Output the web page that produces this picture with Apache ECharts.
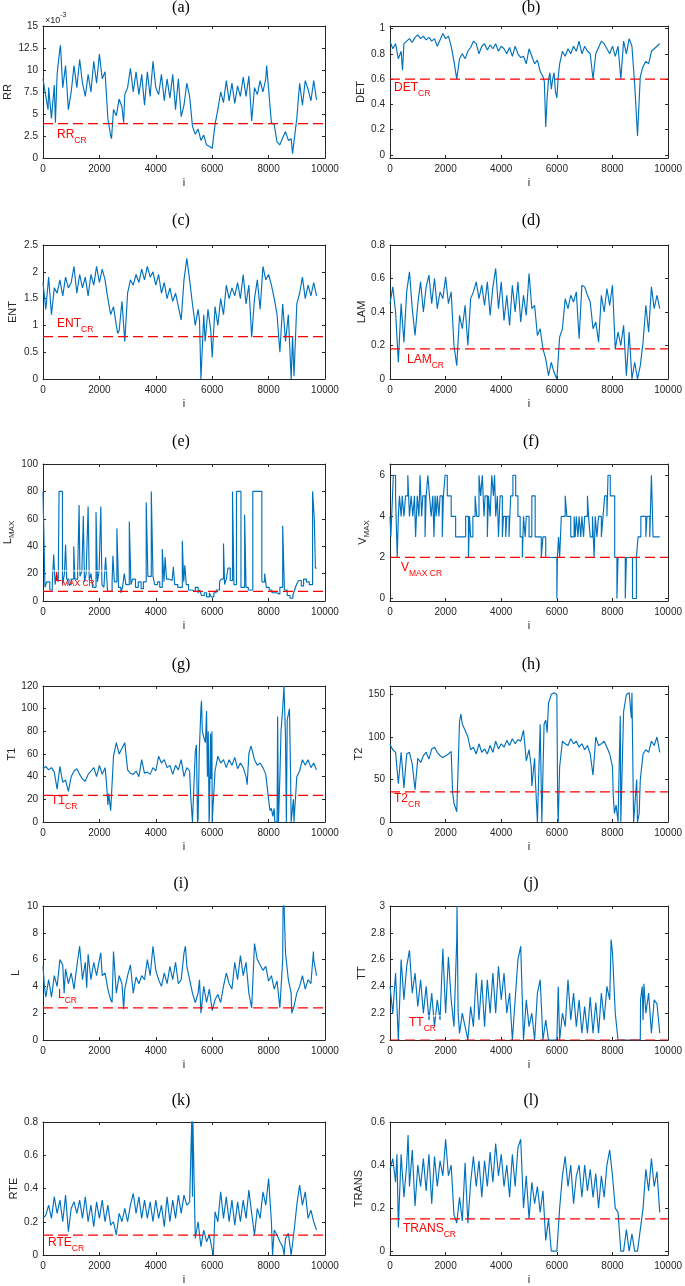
<!DOCTYPE html>
<html><head><meta charset="utf-8">
<script src="https://cdn.jsdelivr.net/npm/echarts@6/dist/echarts.min.js"></script>
<style>html,body{margin:0;padding:0;background:#fff}#c{width:685px;height:1286px}</style>
</head><body><div id="c"></div>
<script>
// ---------------- DATA ----------------
const sampleI = [0,100,200,300,400,500,600,700,800,900,
1000,1100,1200,1300,1400,1500,1600,1700,1800,1900,
2000,2100,2200,2300,2400,2500,2600,2700,2800,2900,
3000,3100,3200,3300,3400,3500,3600,3700,3800,3900,
4000,4100,4200,4300,4400,4500,4600,4700,4800,4900,
5000,5100,5200,5300,5400,5500,5600,5700,5800,5900,
6000,6100,6200,6300,6400,6500,6600,6700,6800,6900,
7000,7100,7200,7300,7400,7500,7600,7700,7800,7900,
8000,8100,8200,8300,8400,8500,8600,8700,8800,8900,
9000,9100,9200,9300,9400,9500,9600,9700];

// RR (x 10^-3)
const rrValues = [9.0,7.0,8.0,4.5,8.3,9.5,12.5,8.0,10.5,5.5,
7.5,10.5,8.0,11.2,8.5,7.0,9.5,7.5,11.0,8.5,
11.8,9.0,9.8,4.5,2.5,5.5,4.8,6.7,5.8,7.2,
8.0,10.2,7.5,9.8,7.2,9.5,6.0,9.8,7.0,11.0,
8.0,7.2,9.5,6.5,9.0,6.8,9.5,5.5,9.0,4.7,
6.0,8.5,7.0,3.6,2.7,3.3,2.0,2.6,1.5,1.3,
1.1,3.8,5.5,7.5,6.3,8.8,6.5,8.5,6.2,8.2,
7.0,9.2,7.0,9.3,4.2,8.0,7.2,8.8,7.5,9.0,
10.3,4.0,3.8,1.8,1.5,2.3,3.0,2.0,2.2,0.6,
4.5,8.5,6.0,8.8,7.8,6.5,8.8,6.6];
const rrExtra = [[180,5.5],[440,4.0],[620,12.8],[2430,2.2],[2860,4.0],[6050,0.9],[7420,4.0],[7930,10.5],[8850,0.5]];

const detValues = [0.90,0.84,0.88,0.76,0.82,0.88,0.90,0.92,0.89,0.93,
0.95,0.92,0.94,0.91,0.93,0.90,0.92,0.86,0.91,0.96,
0.92,0.94,0.86,0.74,0.60,0.76,0.80,0.76,0.82,0.85,
0.90,0.88,0.80,0.86,0.88,0.83,0.87,0.84,0.88,0.82,
0.86,0.84,0.80,0.85,0.78,0.86,0.80,0.77,0.78,0.72,
0.84,0.78,0.72,0.75,0.66,0.62,0.22,0.60,0.52,0.65,
0.45,0.72,0.82,0.78,0.84,0.80,0.86,0.82,0.90,0.80,
0.86,0.82,0.80,0.60,0.80,0.85,0.90,0.88,0.84,0.80,
0.86,0.78,0.86,0.60,0.90,0.80,0.92,0.86,0.55,0.15,
0.62,0.70,0.74,0.72,0.82,0.84,0.86,0.88];
const detExtra = [[450,0.67],[5550,0.58],[5650,0.45],[5750,0.65],[5850,0.60],[5950,0.50],[6050,0.62]];

const entValues = [1.80,1.30,1.90,1.20,1.70,1.60,1.85,1.55,1.90,1.70,
1.80,2.10,1.60,1.95,1.70,1.90,1.55,1.95,1.75,2.10,
1.80,2.05,1.85,1.50,1.20,1.35,1.00,0.90,1.45,0.70,
1.60,1.85,1.75,1.95,1.80,2.05,1.85,2.10,1.90,2.00,
1.75,1.95,1.60,1.80,1.50,1.70,1.45,1.60,1.35,1.10,
1.85,2.25,1.85,1.40,1.00,1.30,0.00,1.20,0.70,1.30,
0.40,1.35,1.00,1.50,1.20,1.75,1.50,1.70,1.55,1.80,
1.50,1.95,1.40,1.75,0.78,1.50,1.85,1.30,2.10,1.85,
1.95,1.75,1.50,1.20,0.50,1.40,0.70,1.20,0.00,0.05,
1.40,1.60,1.90,1.50,1.75,1.55,1.80,1.55];
const entExtra = [[2650,0.85],[5550,1.1],[5750,0.7],[5850,1.3],[5950,0.9],[8850,0.8]];

const lamValues = [0.45,0.55,0.40,0.10,0.45,0.22,0.52,0.64,0.42,0.26,
0.45,0.58,0.40,0.55,0.62,0.45,0.60,0.42,0.52,0.48,
0.61,0.45,0.52,0.20,0.08,0.38,0.30,0.44,0.20,0.48,
0.52,0.58,0.48,0.56,0.44,0.58,0.38,0.55,0.66,0.42,
0.58,0.35,0.50,0.32,0.56,0.40,0.58,0.34,0.50,0.38,
0.63,0.42,0.44,0.26,0.30,0.18,0.12,0.02,0.10,0.04,
0.00,0.25,0.30,0.48,0.42,0.50,0.46,0.52,0.24,0.56,
0.55,0.50,0.46,0.30,0.34,0.22,0.50,0.40,0.54,0.44,
0.56,0.18,0.28,0.20,0.32,0.02,0.28,0.00,0.10,0.00,
0.08,0.22,0.44,0.28,0.55,0.42,0.50,0.42];
const lamExtra = [];

// L_MAX: change points (i, value), held until next point
const lmaxSteps = [[0,80],[40,40],[70,10],[130,14],[240,8],[330,14],[380,34],[430,12],[480,20],[540,14],[570,80],[690,12],[760,20],[800,41],[840,16],[920,12],[1000,16],[1090,40],[1130,16],[1230,22],[1280,70],[1310,18],[1380,22],[1430,62],[1470,14],[1530,20],[1600,69],[1640,15],[1700,20],[1760,10],[1880,65],[1930,14],[1990,22],[2050,69],[2090,12],[2160,10],[2220,32],[2290,7],[2450,14],[2480,33],[2530,14],[2620,53],[2680,10],[2760,6],[2820,10],[2880,20],[2940,12],[3060,58],[3120,12],[3180,16],[3280,10],[3380,14],[3480,9],[3560,14],[3660,72],[3720,18],[3840,80],[3900,18],[3960,12],[4060,14],[4140,10],[4230,38],[4290,14],[4330,32],[4380,16],[4460,15],[4580,16],[4620,25],[4670,12],[4780,10],[4940,44],[4990,14],[5030,26],[5080,12],[5160,8],[5280,7],[5400,10],[5500,6],[5560,8],[5620,4],[5720,6],[5800,3],[5900,6],[5960,3],[6060,6],[6140,8],[6260,14],[6320,16],[6400,42],[6440,12],[6500,16],[6560,24],[6640,15],[6720,80],[6770,12],[6860,80],[7020,10],[7150,63],[7200,10],[7280,8],[7440,80],[7760,14],[7860,20],[7920,10],[8020,8],[8120,6],[8280,5],[8400,10],[8500,55],[8560,8],[8660,4],[8760,2],[8860,4],[8920,8],[8990,12],[9060,15],[9160,11],[9240,16],[9340,14],[9440,12],[9560,80],[9620,60],[9660,24],[9700,24]];
const lmaxMask = [[180,22],[2300,22]];

// V_MAX: change points
const vmaxSteps = [[0,4],[30,3],[60,4],[120,6],[200,5],[260,2],[300,4],[340,5],[400,4],[440,5],[500,4],[560,5],[640,6],[700,4],[760,5],[820,4],[880,5],[920,3],[980,5],[1040,4],[1080,6],[1140,4],[1180,5],[1260,3],[1300,5],[1360,6],[1420,5],[1480,4],[1540,5],[1580,3],[1620,5],[1660,4],[1700,5],[1760,4],[1800,5],[1880,3],[1920,5],[1980,6],[2060,5],[2200,4],[2360,3],[2720,4],[2820,2],[2860,4],[2900,3],[2980,4],[3060,5],[3120,4],[3200,6],[3260,5],[3320,6],[3380,4],[3420,5],[3500,3],[3540,5],[3600,4],[3660,6],[3720,5],[3760,6],[3800,4],[3860,5],[3900,3],[3960,5],[4040,3],[4080,4],[4160,3],[4200,4],[4280,3],[4340,5],[4420,6],[4520,5],[4600,4],[4680,3],[4760,2],[4800,4],[4860,3],[4900,4],[5000,3],[5100,5],[5220,3],[5440,2],[5500,3],[5600,2],[6000,0],[6020,2],[6060,3],[6100,2],[6160,4],[6300,5],[6360,4],[6500,3],[6620,4],[6660,3],[6700,4],[6760,3],[6800,4],[6860,3],[6900,4],[6960,3],[7000,4],[7100,5],[7140,4],[7200,3],[7280,4],[7340,2],[7380,4],[7440,3],[7500,4],[7600,3],[7660,4],[7720,5],[7800,4],[7840,6],[7920,5],[8080,2],[8160,0],[8200,2],[8460,0],[8500,2],[8720,0],[8860,2],[8920,3],[9020,4],[9200,3],[9240,4],[9340,3],[9400,6],[9460,3],[9700,3]];

const t1Values = [47,49,46,48,44,29,49,35,37,27,
40,45,47,42,38,36,42,45,48,40,
50,42,48,15,10,58,70,60,65,70,
46,43,42,45,40,55,43,44,42,48,
45,58,52,55,48,50,42,50,46,55,
40,48,45,0,62,2,100,75,98,5,
0,45,58,52,55,48,55,50,57,47,
52,48,40,60,65,55,50,52,48,42,
20,12,12,0,40,100,75,95,0,0,
40,45,55,50,55,48,52,46];
const t1Extra = [[2250,35],[2330,25],[5240,22],[5440,68],[5480,0],[5540,60],[5620,107],[5650,80],[5760,70],[5830,40],[5860,80],[5890,0],[5940,78],[5960,38],[5990,80],[6040,0],[7240,33],[7370,67],[8050,10],[8150,5],[8220,0],[8320,93],[8350,0],[8440,80],[8545,120],[8630,0],[8660,90],[8740,100],[8780,40],[8880,20],[8950,0]];

const t2Values = [91,85,82,45,82,40,80,82,68,38,
75,70,78,82,74,86,88,82,78,76,
78,80,83,22,12,118,115,108,100,85,
88,80,92,82,86,80,90,82,95,86,
92,88,96,90,98,92,97,95,108,72,
85,42,75,0,115,0,120,140,150,152,
150,65,95,92,90,98,92,95,88,92,
85,90,80,55,100,90,92,95,88,80,
65,10,0,0,130,150,152,152,0,0,
50,80,85,82,95,90,100,82];
const t2Extra = [[2250,35],[2550,127],[5080,65],[5220,55],[5330,0],[5460,0],[5540,115],[5650,105],[6030,20],[6050,0],[8030,30],[8070,10],[8130,20],[8280,125],[8300,0],[8680,122],[8720,152],[8760,0],[8870,50],[8930,0],[8960,10]];

const lValues = [5.5,3.2,4.5,3.2,4.8,4.0,6.0,5.6,5.3,4.2,
5.0,3.8,5.5,7.0,4.5,5.8,6.4,4.5,5.8,4.8,
6.0,4.8,5.0,3.8,3.0,6.6,3.5,4.8,4.2,3.8,
4.8,5.6,3.5,4.7,4.2,4.8,4.5,6.0,4.8,7.0,
5.2,4.5,4.0,5.0,4.2,5.5,4.5,5.8,4.2,4.5,
6.5,5.5,4.5,3.5,2.8,3.5,2.0,4.0,2.8,3.8,
2.2,3.0,3.4,2.8,4.0,5.0,4.2,3.8,5.8,4.5,
6.3,4.8,5.8,3.5,2.4,7.2,6.0,5.6,5.2,5.5,
4.4,4.8,3.8,4.4,2.4,6.0,6.5,4.5,3.5,2.5,
3.5,4.0,4.8,3.8,4.5,4.2,6.0,4.8];
const lExtra = [[50,4.0],[750,3.5],[1550,3.9],[2050,6.5],[2450,2.8],[2860,2.3],[5050,7.0],[5550,4.5],[8520,12],[8570,12],[8820,2.0],[9590,6.6]];

const ttValues = [2.40,2.20,2.50,2.00,2.60,2.30,2.55,2.67,2.35,2.50,
2.25,2.45,2.20,2.40,2.15,2.35,2.10,2.30,2.15,2.68,
2.20,2.62,2.30,2.10,2.75,2.05,2.20,2.10,2.00,2.25,
2.10,2.50,2.15,2.45,2.10,2.45,2.20,2.50,2.20,2.55,
2.30,2.50,2.20,2.35,2.00,2.30,2.60,2.70,2.00,2.30,
2.10,2.20,2.00,2.35,2.45,2.00,2.15,2.00,2.00,2.00,
2.00,2.00,2.20,2.10,2.45,2.15,2.35,2.10,2.30,2.05,
2.25,2.05,2.32,2.05,2.28,2.05,2.35,2.15,2.40,2.30,
2.65,2.20,2.00,2.00,2.00,2.00,2.00,2.00,2.00,2.00,
2.00,2.15,2.20,2.35,2.05,2.30,2.27,2.05];
const ttExtra = [[2410,3.0],[2450,2.2],[6050,2.4],[7950,2.75],[9010,2.3],[9070,2.4],[9130,2.42]];
const ttMask = [[890,2.18],[2030,2.18]];

const rteValues = [0.22,0.24,0.30,0.22,0.35,0.25,0.33,0.20,0.36,0.14,
0.28,0.32,0.25,0.33,0.22,0.35,0.20,0.30,0.17,0.32,
0.22,0.33,0.20,0.30,0.18,0.20,0.12,0.25,0.20,0.28,
0.20,0.30,0.37,0.25,0.35,0.22,0.33,0.22,0.32,0.20,
0.33,0.22,0.30,0.17,0.35,0.20,0.33,0.22,0.36,0.25,
0.36,0.30,0.32,0.35,0.10,0.20,0.05,0.15,0.08,0.12,
0.03,0.26,0.20,0.38,0.22,0.35,0.20,0.33,0.18,0.32,
0.20,0.33,0.22,0.39,0.25,0.12,0.28,0.22,0.38,0.30,
0.46,0.20,0.15,0.12,0.08,0.05,0.10,0.13,0.00,0.14,
0.30,0.42,0.30,0.38,0.22,0.27,0.20,0.15];
const rteExtra = [[5280,0.85],[5310,0.85],[6040,0.0],[8140,0.0],[8550,0.0]];

const transValues = [0.38,0.43,0.32,0.11,0.45,0.25,0.40,0.30,0.47,0.21,
0.40,0.30,0.43,0.28,0.45,0.22,0.44,0.30,0.42,0.35,
0.52,0.35,0.40,0.17,0.13,0.25,0.14,0.41,0.13,0.32,
0.44,0.30,0.42,0.25,0.42,0.30,0.46,0.32,0.50,0.35,
0.45,0.30,0.40,0.25,0.45,0.30,0.48,0.52,0.20,0.35,
0.15,0.32,0.22,0.30,0.18,0.28,0.05,0.15,0.00,0.00,
0.00,0.20,0.35,0.44,0.30,0.40,0.22,0.35,0.40,0.25,
0.40,0.28,0.38,0.25,0.36,0.20,0.35,0.25,0.40,0.47,
0.35,0.20,0.18,0.00,0.00,0.10,0.00,0.08,0.00,0.00,
0.10,0.20,0.38,0.28,0.43,0.30,0.37,0.18];
const transExtra = [[250,0.45],[650,0.54]];

// thresholds (CR)
const crValues = [3.9, 0.6, 0.79, 0.18, 7, 2, 23.5, 35.5, 2.4, 2.0, 0.12, 0.15];

// titles, axis names, ranges, tick labels
const panelTitles = ['(a)','(b)','(c)','(d)','(e)','(f)','(g)','(h)','(i)','(j)','(k)','(l)'];
const yNames = ['RR','DET','ENT','LAM','{m|L}{s|MAX}','{m|V}{s|MAX}','T1','T2','L','TT','RTE','TRANS'];
const crMain = ['RR','DET','ENT','LAM','L','V','T1','T2','L','TT','RTE','TRANS'];
const crSub = ['CR','CR','CR','CR','MAX CR','MAX CR','CR','CR','CR','CR','CR','CR'];
const yMin = [0, -0.025, 0, 0, 0, -0.12, 0, 0, 0, 2, 0, -0.018];
const yMax = [15, 1.02, 2.5, 0.8, 100, 6.55, 120, 160, 10, 3, 0.8, 0.6];
const yTicks = [[0,2.5,5,7.5,10,12.5,15],[0,0.2,0.4,0.6,0.8,1],[0,0.5,1,1.5,2,2.5],[0,0.2,0.4,0.6,0.8],
  [0,20,40,60,80,100],[0,2,4,6],[0,20,40,60,80,100,120],[0,50,100,150],[0,2,4,6,8,10],
  [2,2.2,2.4,2.6,2.8,3],[0,0.2,0.4,0.6,0.8],[0,0.2,0.4,0.6]];
const xTicks = [0,2000,4000,6000,8000,10000];

// ---------------- LAYOUT ----------------
const colLeft = [43, 390], colWidth = [282, 281];
const rowTop = [26, 245, 464, 686, 906, 1122];
const rowHeight = [132, 134, 137, 136, 134, 135];
const titleY = [8, 221, 442, 665, 884, 1101];
const titleX = [181, 531];
const nameGaps = [30,24,25,22,27,19,24,26,22,22,24,26];
const crPos = [[57,136],[394,89],[57,325],[407,361],[55,579],[401,569],[51,802],[394,800],[58,996],[409,1024],[48,1244],[403,1230]];

function merge(name, vals, extra){
  if (vals.length !== sampleI.length) throw new Error(name + ' length ' + vals.length);
  return sampleI.map((x,j)=>[x, vals[j]]).concat(extra).sort((a,b)=>a[0]-b[0]);
}
const seriesData = [
  merge('rr', rrValues, rrExtra), merge('det', detValues, detExtra),
  merge('ent', entValues, entExtra), merge('lam', lamValues, lamExtra),
  lmaxSteps, vmaxSteps,
  merge('t1', t1Values, t1Extra), merge('t2', t2Values, t2Extra),
  merge('l', lValues, lExtra), merge('tt', ttValues, ttExtra),
  merge('rte', rteValues, rteExtra), merge('trans', transValues, transExtra)
];
const masks = {4: lmaxMask, 9: ttMask};

const FONT = '"Liberation Sans", Arial, Helvetica, sans-serif';
const AX = '#262626';
const plainNum = v => String(+v.toFixed(6));
const grids = [], xAxes = [], yAxes = [], series = [], graphics = [];
for (let k = 0; k < 12; k++) {
  const col = k % 2, row = Math.floor(k / 2);
  grids.push({left: colLeft[col], top: rowTop[row], width: colWidth[col], height: rowHeight[row]});
  const line = {show: true, onZero: false, lineStyle: {color: AX, width: 1}};
  xAxes.push({type: 'value', gridIndex: k, position: 'bottom', min: 0, max: 10000, interval: 2000,
    axisLine: line, axisTick: {show: true, inside: true, length: 3, customValues: xTicks, lineStyle: {color: AX}},
    axisLabel: {show: true, customValues: xTicks, formatter: plainNum, margin: 6, color: AX, fontSize: 10, fontFamily: FONT},
    splitLine: {show: false},
    name: 'i', nameLocation: 'middle', nameGap: 19, nameTextStyle: {color: AX, fontSize: 11, fontFamily: FONT}});
  xAxes.push({type: 'value', gridIndex: k, position: 'top', min: 0, max: 10000, interval: 2000,
    axisLine: line, axisTick: {show: true, inside: true, length: 3, customValues: xTicks, lineStyle: {color: AX}},
    axisLabel: {show: false}, splitLine: {show: false}});
  yAxes.push({type: 'value', gridIndex: k, position: 'left', min: yMin[k], max: yMax[k],
    axisLine: line, axisTick: {show: true, inside: true, length: 3, customValues: yTicks[k], lineStyle: {color: AX}},
    axisLabel: {show: true, customValues: yTicks[k], formatter: plainNum, margin: 5, color: AX, fontSize: 10, fontFamily: FONT},
    splitLine: {show: false},
    name: yNames[k], nameLocation: 'middle', nameRotate: 90, nameGap: nameGaps[k],
    nameTextStyle: {color: AX, fontSize: 11, fontFamily: FONT,
      rich: {m: {fontSize: 11, fontFamily: FONT, color: AX, verticalAlign: 'top'},
             s: {fontSize: 8, fontFamily: FONT, color: AX, verticalAlign: 'bottom', padding: [6,0,0,0]}}}});
  yAxes.push({type: 'value', gridIndex: k, position: 'right', min: yMin[k], max: yMax[k],
    axisLine: line, axisTick: {show: true, inside: true, length: 3, customValues: yTicks[k], lineStyle: {color: AX}},
    axisLabel: {show: false}, splitLine: {show: false}});
  series.push({type: 'line', xAxisIndex: 2*k, yAxisIndex: 2*k, data: seriesData[k],
    showSymbol: false, symbol: 'none', step: (k === 4 || k === 5) ? 'end' : false,
    lineStyle: {color: '#0072BD', width: 1.15}, z: 2, silent: true, animation: false});
  if (masks[k]) {
    series.push({type: 'line', xAxisIndex: 2*k, yAxisIndex: 2*k, data: masks[k],
      showSymbol: false, symbol: 'none', lineStyle: {color: '#ffffff', width: 1}, z: 3, silent: true, animation: false});
  }
  series.push({type: 'line', xAxisIndex: 2*k, yAxisIndex: 2*k, data: [[0, crValues[k]], [10000, crValues[k]]],
    showSymbol: false, symbol: 'none', lineStyle: {color: '#FF0000', width: 1.2, type: [10,5]}, z: 4, silent: true, animation: false});
  // panel title
  graphics.push({type: 'text', x: titleX[col], y: titleY[row], z: 10,
    style: {text: panelTitles[k], font: '16px "Liberation Serif", "Times New Roman", serif', fill: '#000',
      align: 'center', verticalAlign: 'middle', textAlign: 'center', textVerticalAlign: 'middle'}});
  // CR label
  graphics.push({type: 'text', x: crPos[k][0], y: crPos[k][1] - 7, z: 10,
    style: {text: '{m|' + crMain[k] + '}{s|' + crSub[k] + '}', fill: '#FF0000',
      align: 'left', verticalAlign: 'top', textAlign: 'left', textVerticalAlign: 'top',
      rich: {m: {fontSize: 12, fontFamily: FONT, fill: '#FF0000', color: '#FF0000', verticalAlign: 'top'},
             s: {fontSize: 8.5, fontFamily: FONT, fill: '#FF0000', color: '#FF0000', verticalAlign: 'bottom', padding: [7,0,0,0]}}}});
}
// x10^-3 exponent label
graphics.push({type: 'text', x: 45, y: 12, z: 10,
  style: {text: '{m|×10}{s|-3}', fill: AX, align: 'left', verticalAlign: 'top', textAlign: 'left', textVerticalAlign: 'top',
    rich: {m: {fontSize: 9, fontFamily: FONT, color: AX, fill: AX, verticalAlign: 'bottom', padding: [4,0,0,0]},
           s: {fontSize: 7, fontFamily: FONT, color: AX, fill: AX, verticalAlign: 'top'}}}});

const chart = echarts.init(document.getElementById('c'), null, {renderer: 'canvas', width: 685, height: 1286});
chart.setOption({animation: false, backgroundColor: '#ffffff', grid: grids, xAxis: xAxes, yAxis: yAxes, series: series, graphic: graphics});
</script></body></html>
